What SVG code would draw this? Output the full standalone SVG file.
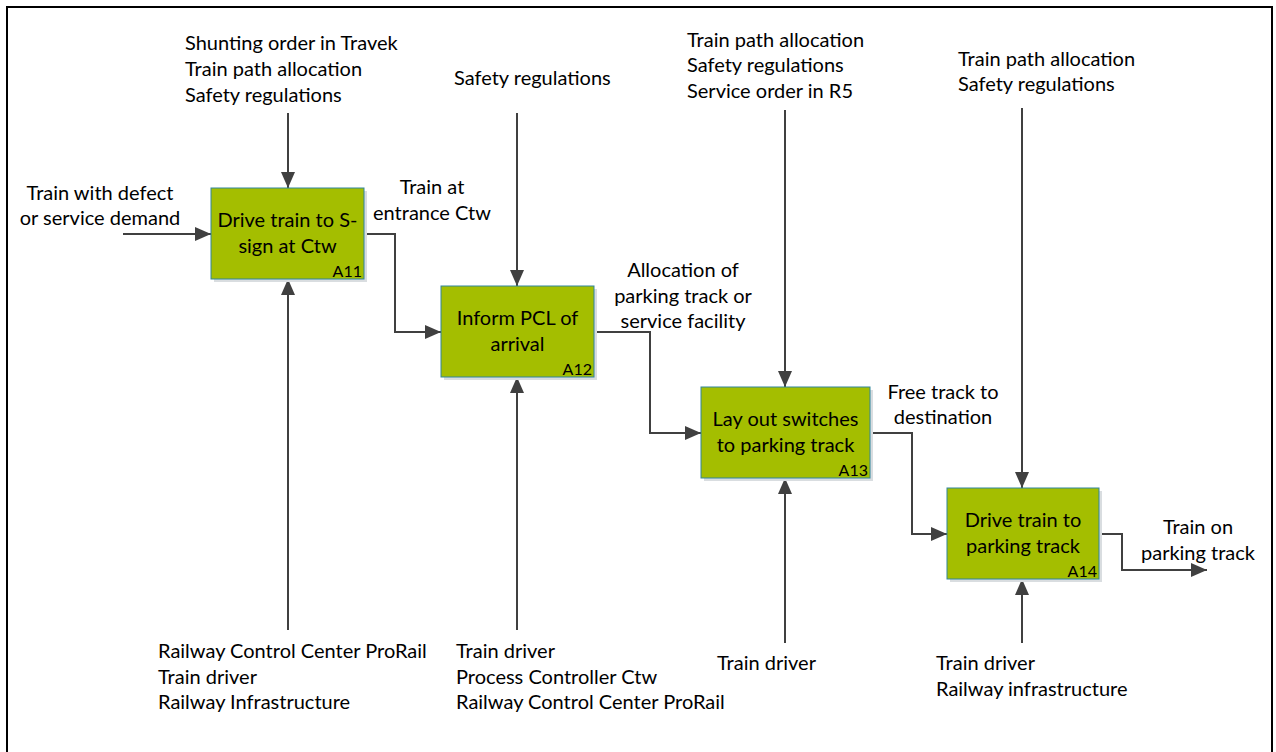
<svg xmlns="http://www.w3.org/2000/svg" width="1276" height="752" viewBox="0 0 1276 752">
  <defs>
    <marker id="arrow" viewBox="0 0 16 14" refX="16" refY="7" markerWidth="16" markerHeight="14" markerUnits="userSpaceOnUse" orient="auto">
      <path d="M0,0 L16,7 L0,14 Z" fill="#404040"/>
    </marker>
  </defs>
  <style>
    text { font-family: "Lato", "Open Sans", "Liberation Sans", sans-serif; font-size: 20px; fill: #000; }
    .c { text-anchor: middle; }
    .box { fill: #a4be00; stroke: #31859c; stroke-width: 1; }
    .shadow { fill: #d9dde0; }
    .tag { font-size: 16px; text-anchor: end; }
    .title { text-anchor: middle; font-size: 20px; }
    .conn path { fill: none; stroke: #404040; stroke-width: 2; marker-end: url(#arrow); }
  </style>

  <rect width="1276" height="752" fill="#fff"/>
  <!-- outer frame -->
  <rect x="7" y="7" width="1265" height="760" fill="none" stroke="#000" stroke-width="2"/>

  <!-- connectors -->
  <g id="connectors" class="conn">
    <!-- input -->
    <path d="M123,234 H211"/>
    <!-- A11 -> A12 -->
    <path d="M364,234 H395 V332 H441"/>
    <!-- A12 -> A13 -->
    <path d="M594,332 H650 V433 H701"/>
    <!-- A13 -> A14 -->
    <path d="M870,433 H912 V534 H947"/>
    <!-- output -->
    <path d="M1099,534 H1122 V570 H1207"/>
    <!-- controls -->
    <path d="M288,113 V188"/>
    <path d="M517,113 V286"/>
    <path d="M785,110 V387"/>
    <path d="M1022,108 V488"/>
    <!-- mechanisms -->
    <path d="M288,630 V279"/>
    <path d="M517,630 V377"/>
    <path d="M785,643 V478"/>
    <path d="M1022,643 V579"/>
  </g>

  <!-- activity boxes -->
  <g id="A11">
    <rect class="shadow" x="214" y="191" width="153" height="91"/>
    <rect class="box" x="211" y="188" width="153" height="91"/>
    <text class="title" x="287.5" y="227">Drive train to S-</text>
    <text class="title" x="287.5" y="253">sign at Ctw</text>
    <text class="tag" x="362" y="277">A11</text>
  </g>
  <g id="A12">
    <rect class="shadow" x="444" y="289" width="153" height="91"/>
    <rect class="box" x="441" y="286" width="153" height="91"/>
    <text class="title" x="517.5" y="325">Inform PCL of</text>
    <text class="title" x="517.5" y="351">arrival</text>
    <text class="tag" x="592" y="375">A12</text>
  </g>
  <g id="A13">
    <rect class="shadow" x="704" y="390" width="169" height="91"/>
    <rect class="box" x="701" y="387" width="169" height="91"/>
    <text class="title" x="785.5" y="426">Lay out switches</text>
    <text class="title" x="785.5" y="452">to parking track</text>
    <text class="tag" x="868" y="476">A13</text>
  </g>
  <g id="A14">
    <rect class="shadow" x="950" y="491" width="152" height="91"/>
    <rect class="box" x="947" y="488" width="152" height="91"/>
    <text class="title" x="1023" y="527">Drive train to</text>
    <text class="title" x="1023" y="553">parking track</text>
    <text class="tag" x="1097" y="577">A14</text>
  </g>

  <!-- controls -->
  <g id="controls">
    <text x="185" y="50">Shunting order in Travek</text>
    <text x="185" y="76">Train path allocation</text>
    <text x="185" y="102">Safety regulations</text>
    <text x="454" y="85">Safety regulations</text>
    <text x="687" y="47">Train path allocation</text>
    <text x="687" y="72">Safety regulations</text>
    <text x="687" y="98">Service order in R5</text>
    <text x="958" y="66">Train path allocation</text>
    <text x="958" y="91">Safety regulations</text>
  </g>

  <!-- inputs / outputs -->
  <g id="flows">
    <text class="c" x="100" y="200">Train with defect</text>
    <text class="c" x="100" y="225">or service demand</text>
    <text class="c" x="432" y="194">Train at</text>
    <text class="c" x="432" y="220">entrance Ctw</text>
    <text class="c" x="683" y="277">Allocation of</text>
    <text class="c" x="683" y="303">parking track or</text>
    <text class="c" x="683" y="328">service facility</text>
    <text class="c" x="943" y="399">Free track to</text>
    <text class="c" x="943" y="424">destination</text>
    <text class="c" x="1198" y="534">Train on</text>
    <text class="c" x="1198" y="560">parking track</text>
  </g>

  <!-- mechanisms -->
  <g id="mechanisms">
    <text x="158" y="658">Railway Control Center ProRail</text>
    <text x="158" y="684">Train driver</text>
    <text x="158" y="709">Railway Infrastructure</text>
    <text x="456" y="658">Train driver</text>
    <text x="456" y="684">Process Controller Ctw</text>
    <text x="456" y="709">Railway Control Center ProRail</text>
    <text x="717" y="670">Train driver</text>
    <text x="936" y="670">Train driver</text>
    <text x="936" y="696">Railway infrastructure</text>
  </g>
</svg>
